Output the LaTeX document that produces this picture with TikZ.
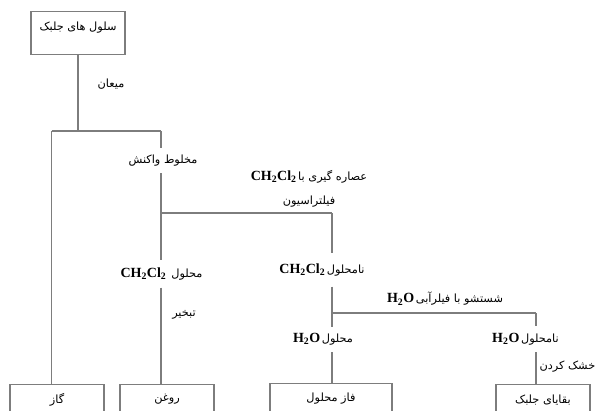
\documentclass[tikz,border=0pt]{standalone}
\usepackage{fontspec}
\setmainfont{Liberation Serif}
\newfontfamily\pfont[Script=Arabic]{DejaVu Sans}
\TeXXeTstate=1
\newcommand\fatx[1]{{\pfont\fontsize{11.3}{12}\selectfont\beginR #1\endR}}
\newcommand\chemf[1]{{\fontsize{14}{15}\selectfont\bfseries #1}}
\definecolor{lcol}{RGB}{125,125,125}
\begin{document}
\begin{tikzpicture}[x=1pt,y=-1pt,
  ln/.style={draw=lcol, line width=1.2pt},
  box/.style={draw=lcol, line width=1.2pt, minimum height=30pt, inner sep=0pt, anchor=north},
  lbl/.style={inner sep=0pt},
  gaplbl/.style={inner sep=0pt, minimum width=2pt}
]
\useasboundingbox (0,0) rectangle (597,410);
\clip (0,0) rectangle (597,410);
% boxes
\node[box, minimum width=94pt, minimum height=43pt, text height=6pt, text depth=12pt] (top) at (78,11) {\fatx{سلول های جلبک}};
\node[box, minimum width=94pt] (gaz) at (57,384) {\fatx{گاز}};
\node[box, minimum width=94pt] (roghan) at (167,384) {\fatx{روغن}};
\node[box, minimum width=122pt] (faz) at (331,383) {\fatx{فاز محلول}};
\node[box, minimum width=94pt] (bagh) at (543,384) {\fatx{بقایای جلبک}};
% junctions
\coordinate (j1) at (78,131);
\coordinate (jA) at (51.5,131);
\coordinate (jB) at (161,131);
\coordinate (j2) at (161,213);
\coordinate (jC) at (332,213);
\coordinate (j3) at (332,313);
\coordinate (jD) at (536,313);
% labels
\node[lbl] (mian) at (111,84) {\fatx{میعان}};
\node[gaplbl, minimum height=25pt] (mix) at (163,160.5) {\fatx{مخلوط واکنش}};
\node[lbl] (ext) at (309,177) {\chemf{CH\textsubscript{2}Cl\textsubscript{2}}\,\fatx{عصاره گیری با}};
\node[lbl] (filt) at (309,202) {\fatx{فیلتراسیون}};
\node[gaplbl, minimum height=27pt] (solCH) at (161.5,274) {\chemf{CH\textsubscript{2}Cl\textsubscript{2}}\ \ \fatx{محلول}};
\node[lbl] (evap) at (184,315) {\fatx{تبخیر}};
\node[gaplbl, minimum height=33pt] (insolCH) at (322,270) {\chemf{CH\textsubscript{2}Cl\textsubscript{2}}\,\fatx{نامحلول}};
\node[lbl] (wash) at (445,299) {\chemf{H\textsubscript{2}O}\,\fatx{شستشو با فیلرآبی}};
\node[gaplbl, minimum height=25pt] (solH) at (323,339.5) {\chemf{H\textsubscript{2}O}\,\fatx{محلول}};
\node[gaplbl, minimum height=26pt] (insolH) at (525.5,339) {\chemf{H\textsubscript{2}O}\,\fatx{نامحلول}};
\node[lbl, anchor=east] (dry) at (595.5,367) {\fatx{خشک کردن}};
% connectors
\draw[ln] (top.south -| j1) -- (j1);
\draw[ln] (jA) -- (jB);
\draw[ln] (jA) -- (jA |- gaz.north);
\draw[ln] (jB) -- (mix.north -| jB);
\draw[ln] (mix.south -| jB) -- (solCH.north -| jB);
\draw[ln] (j2) -- (jC);
\draw[ln] (jC) -- (insolCH.north -| jC);
\draw[ln] (solCH.south -| jB) -- (roghan.north -| jB);
\draw[ln] (insolCH.south -| jC) -- (solH.north -| jC);
\draw[ln] (j3) -- (jD);
\draw[ln] (jD) -- (insolH.north -| jD);
\draw[ln] (solH.south -| jC) -- (faz.north -| jC);
\draw[ln] (insolH.south -| jD) -- (bagh.north -| jD);
\end{tikzpicture}
\end{document}
